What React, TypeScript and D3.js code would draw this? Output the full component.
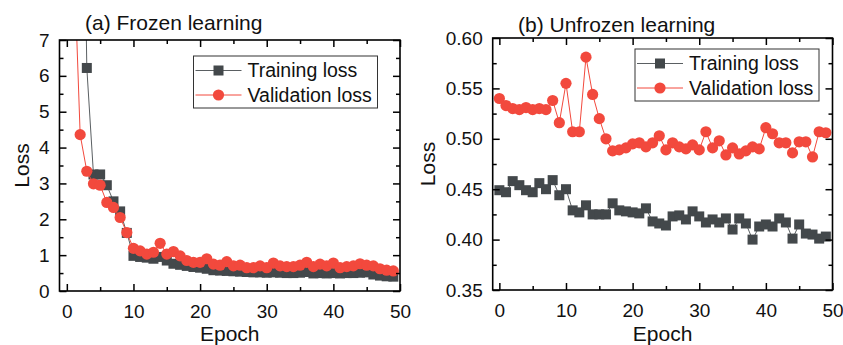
import React, { useEffect, useRef } from 'react';
import * as d3 from 'd3';

const FONT = '"Liberation Sans", Arial, Helvetica, sans-serif';
const TRAIN_COLOR = '#43484b';
const TRAIN_LINE = '#5a5f62';
const VAL_COLOR = '#f2493d';

// (a) frozen learning, epochs 1..49 (first points run off the top of the axis)
const frozenTrain = [
  30, 18, 6.22, 3.25, 3.25, 2.95, 2.5, 2.22, 1.62, 0.98,
  0.95, 0.93, 0.9, 0.95, 0.85, 0.76, 0.73, 0.7, 0.67, 0.65,
  0.62, 0.58, 0.57, 0.56, 0.55, 0.54, 0.53, 0.52, 0.52, 0.51,
  0.52, 0.51, 0.5, 0.5, 0.51, 0.53, 0.49, 0.5, 0.49, 0.5,
  0.49, 0.5, 0.5, 0.51, 0.52, 0.46, 0.43, 0.41, 0.4,
];
const frozenVal = [
  9.7, 4.36, 3.34, 2.99, 2.95, 2.47, 2.33, 2.05, 1.63, 1.19,
  1.12, 1.03, 1.08, 1.33, 1.03, 1.1, 0.98, 0.85, 0.8, 0.8,
  0.9, 0.75, 0.72, 0.82, 0.7, 0.72, 0.65, 0.65, 0.7, 0.65,
  0.78, 0.7, 0.68, 0.68, 0.72, 0.8, 0.68, 0.75, 0.7, 0.78,
  0.65, 0.68, 0.7, 0.76, 0.72, 0.7, 0.62, 0.58, 0.56,
];
const frozenEpochs = frozenTrain.map((_, i) => i + 1);

// (b) unfrozen learning, epochs 0..49
const unfrozenTrain = [
  0.449, 0.447, 0.458, 0.454, 0.449, 0.447, 0.456, 0.45, 0.459, 0.444,
  0.45, 0.429, 0.427, 0.434, 0.425, 0.425, 0.425, 0.436, 0.429, 0.428,
  0.427, 0.426, 0.431, 0.418, 0.416, 0.414, 0.423, 0.424, 0.42, 0.428,
  0.423, 0.417, 0.42, 0.417, 0.421, 0.41, 0.421, 0.416, 0.4, 0.413,
  0.415, 0.413, 0.421, 0.417, 0.401, 0.415, 0.406, 0.405, 0.401, 0.403,
];
const unfrozenVal = [
  0.54, 0.533, 0.53, 0.529, 0.531, 0.529, 0.53, 0.529, 0.538, 0.516,
  0.555, 0.507, 0.507, 0.581, 0.544, 0.52, 0.5, 0.488, 0.489, 0.491,
  0.495, 0.496, 0.492, 0.496, 0.503, 0.489, 0.496, 0.492, 0.49, 0.494,
  0.489, 0.507, 0.491, 0.498, 0.484, 0.491, 0.485, 0.488, 0.492, 0.49,
  0.511, 0.505, 0.496, 0.496, 0.486, 0.497, 0.497, 0.482, 0.507, 0.506,
];
const unfrozenEpochs = unfrozenTrain.map((_, i) => i);

const xTicks = [0, 10, 20, 30, 40, 50];
const xMinor = [5, 15, 25, 35, 45];
const frozenYTicks = [0, 1, 2, 3, 4, 5, 6, 7];
const frozenYMinor = [0.5, 1.5, 2.5, 3.5, 4.5, 5.5, 6.5];
const unfrozenYTicks = [0.35, 0.4, 0.45, 0.5, 0.55, 0.6];
const unfrozenYMinor = [0.375, 0.425, 0.475, 0.525, 0.575];

const legendLabels = ['Training loss', 'Validation loss'];

const panels = [
  {
    id: 'a',
    title: '(a) Frozen learning',
    titleX: 85, titleY: 29.5,
    left: 59.5, right: 400, top: 40, bottom: 291,
    xDomain: [-1.1, 50], yDomain: [0, 7],
    yTicks: frozenYTicks, yMinor: frozenYMinor, yFormat: d3.format('d'),
    epochs: frozenEpochs, train: frozenTrain, val: frozenVal,
    legendX: 193.5, legendY: 56,
    lossX: 29,
  },
  {
    id: 'b',
    title: '(b) Unfrozen learning',
    titleX: 518, titleY: 32,
    left: 492.7, right: 832.5, top: 38, bottom: 290,
    xDomain: [-1, 50], yDomain: [0.35, 0.6],
    yTicks: unfrozenYTicks, yMinor: unfrozenYMinor, yFormat: d3.format('.2f'),
    epochs: unfrozenEpochs, train: unfrozenTrain, val: unfrozenVal,
    legendX: 635, legendY: 49,
    lossX: 435,
  },
];

function styleAxis(sel, showText) {
  sel.select('.domain').remove();
  sel.selectAll('.tick line').attr('stroke', '#000').attr('stroke-width', 1.5);
  sel.attr('font-family', FONT).attr('font-size', 19);
  sel.selectAll('.tick text').attr('fill', '#111');
  if (!showText) sel.selectAll('.tick text').remove();
}

function drawPanel(svg, p) {
  const x = d3.scaleLinear().domain(p.xDomain).range([p.left, p.right]);
  const y = d3.scaleLinear().domain(p.yDomain).range([p.bottom, p.top]);
  const g = svg.append('g');

  const clipId = `clip-${p.id}`;
  g.append('clipPath').attr('id', clipId)
    .append('rect')
    .attr('x', p.left).attr('y', p.top)
    .attr('width', p.right - p.left).attr('height', p.bottom - p.top);

  const plot = g.append('g').attr('clip-path', `url(#${clipId})`);

  const line = d3.line()
    .x((d, i) => x(p.epochs[i]))
    .y(d => y(d));

  // training: thin gray line + squares
  plot.append('path')
    .attr('d', line(p.train))
    .attr('fill', 'none')
    .attr('stroke', TRAIN_LINE)
    .attr('stroke-width', 1);
  plot.selectAll('.sq')
    .data(p.train)
    .enter()
    .append('rect')
    .attr('class', 'sq')
    .attr('x', (d, i) => x(p.epochs[i]) - 5)
    .attr('y', d => y(d) - 5)
    .attr('width', 10)
    .attr('height', 10)
    .attr('fill', TRAIN_COLOR);

  // validation: thin red line + circles
  plot.append('path')
    .attr('d', line(p.val))
    .attr('fill', 'none')
    .attr('stroke', VAL_COLOR)
    .attr('stroke-width', 1);
  plot.selectAll('.dot')
    .data(p.val)
    .enter()
    .append('circle')
    .attr('class', 'dot')
    .attr('cx', (d, i) => x(p.epochs[i]))
    .attr('cy', d => y(d))
    .attr('r', 5.6)
    .attr('fill', VAL_COLOR);

  // axes, ticks pointing inward on all four sides
  g.append('g').attr('transform', `translate(0,${p.bottom})`)
    .call(d3.axisBottom(x).tickValues(xTicks).tickSize(-7).tickPadding(14).tickFormat(d3.format('d')))
    .call(s => styleAxis(s, true));
  g.append('g').attr('transform', `translate(0,${p.bottom})`)
    .call(d3.axisBottom(x).tickValues(xMinor).tickSize(-4))
    .call(s => styleAxis(s, false));
  g.append('g').attr('transform', `translate(0,${p.top})`)
    .call(d3.axisTop(x).tickValues(xTicks).tickSize(-7))
    .call(s => styleAxis(s, false));
  g.append('g').attr('transform', `translate(0,${p.top})`)
    .call(d3.axisTop(x).tickValues(xMinor).tickSize(-4))
    .call(s => styleAxis(s, false));

  g.append('g').attr('transform', `translate(${p.left},0)`)
    .call(d3.axisLeft(y).tickValues(p.yTicks).tickSize(-7).tickPadding(10).tickFormat(p.yFormat))
    .call(s => styleAxis(s, true));
  g.append('g').attr('transform', `translate(${p.left},0)`)
    .call(d3.axisLeft(y).tickValues(p.yMinor).tickSize(-4))
    .call(s => styleAxis(s, false));
  g.append('g').attr('transform', `translate(${p.right},0)`)
    .call(d3.axisRight(y).tickValues(p.yTicks).tickSize(-7))
    .call(s => styleAxis(s, false));
  g.append('g').attr('transform', `translate(${p.right},0)`)
    .call(d3.axisRight(y).tickValues(p.yMinor).tickSize(-4))
    .call(s => styleAxis(s, false));

  // frame
  g.append('rect')
    .attr('x', p.left).attr('y', p.top)
    .attr('width', p.right - p.left).attr('height', p.bottom - p.top)
    .attr('fill', 'none')
    .attr('stroke', '#000')
    .attr('stroke-width', 1.6);

  // titles
  g.append('text')
    .attr('x', p.titleX).attr('y', p.titleY)
    .attr('font-family', FONT).attr('font-size', 21).attr('fill', '#111')
    .text(p.title);
  g.append('text')
    .attr('x', (p.left + p.right) / 2).attr('y', 341)
    .attr('text-anchor', 'middle')
    .attr('font-family', FONT).attr('font-size', 21).attr('fill', '#111')
    .text('Epoch');
  g.append('text')
    .attr('transform', `translate(${p.lossX},${(p.top + p.bottom) / 2}) rotate(-90)`)
    .attr('text-anchor', 'middle')
    .attr('font-family', FONT).attr('font-size', 21).attr('fill', '#111')
    .text('Loss');

  // legend
  const lg = g.append('g').attr('transform', `translate(${p.legendX},${p.legendY})`);
  lg.append('rect')
    .attr('width', 184).attr('height', 52)
    .attr('fill', '#fff')
    .attr('stroke', '#333')
    .attr('stroke-width', 1);
  legendLabels.forEach((label, i) => {
    const ry = 14.5 + i * 24.5;
    lg.append('line')
      .attr('x1', 2).attr('x2', 48).attr('y1', ry).attr('y2', ry)
      .attr('stroke', i === 0 ? TRAIN_LINE : VAL_COLOR)
      .attr('stroke-width', 1);
    if (i === 0) {
      lg.append('rect')
        .attr('x', 20).attr('y', ry - 5).attr('width', 10).attr('height', 10)
        .attr('fill', TRAIN_COLOR);
    } else {
      lg.append('circle')
        .attr('cx', 25).attr('cy', ry).attr('r', 5.6)
        .attr('fill', VAL_COLOR);
    }
    lg.append('text')
      .attr('x', 54).attr('y', ry + 6.5)
      .attr('font-family', FONT).attr('font-size', 19.5).attr('fill', '#111')
      .text(label);
  });
}

export default function App() {
  const svgRef = useRef(null);

  useEffect(() => {
    const svg = d3.select(svgRef.current);
    svg.selectAll('*').remove();
    svg.append('rect').attr('width', 843).attr('height', 345).attr('fill', '#fff');
    panels.forEach(p => drawPanel(svg, p));
  }, []);

  return (
    <svg
      ref={svgRef}
      width={843}
      height={345}
      style={{ position: 'absolute', left: 0, top: 0, display: 'block' }}
    />
  );
}
